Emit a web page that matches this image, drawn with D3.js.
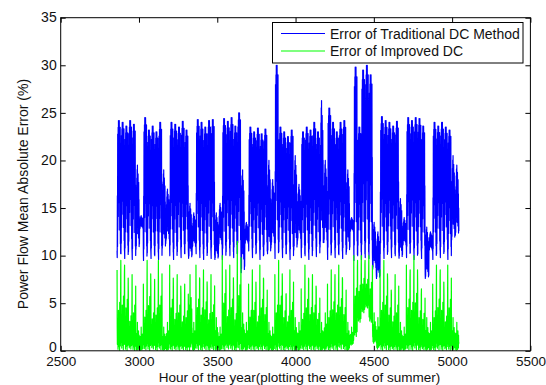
<!DOCTYPE html>
<html>
<head>
<meta charset="utf-8">
<script src="https://cdn.jsdelivr.net/npm/d3@7"></script>
<style>
html,body{margin:0;padding:0;background:#fff;}
svg{display:block;}
text{font-family:"Liberation Sans",Arial,Helvetica,sans-serif;fill:#111;}
</style>
</head>
<body>
<svg id="chart" width="546" height="385"></svg>
<script>
// ---------------- data ----------------
const startHour = 2860;            // first plotted hour of the year
const xTicks = [2500, 3000, 3500, 4000, 4500, 5000, 5500];
const yTicks = [0, 5, 10, 15, 20, 25, 30, 35];
const seriesNames = ["Error of Traditional DC Method", "Error of Improved DC"];

// daily peak of the traditional DC error (91 days = 13 weeks)
const bluePeak = [
  24.2,24.0,23.6,24.2,23.8,19.5,14.2,
  24.5,23.2,23.6,23.0,24.0,19.0,17.0,
  24.0,23.8,23.5,24.1,23.2,15.5,14.5,
  24.3,24.0,23.5,24.2,24.3,14.5,15.5,
  24.4,24.1,24.5,23.6,25.0,19.0,13.5,
  23.5,23.0,23.4,22.8,23.3,20.0,18.0,
  30.0,23.5,23.0,22.5,23.2,20.5,17.5,
  23.0,23.5,23.2,24.0,23.0,26.3,20.0,
  25.5,24.0,23.0,24.0,24.2,19.0,14.0,
  29.8,23.5,29.5,30.0,29.0,13.5,12.5,
  24.6,24.2,24.0,23.6,24.1,16.0,14.0,
  24.5,24.2,24.5,24.4,23.6,13.0,12.5,
  24.0,23.6,24.0,23.5,23.2,20.5,19.5
];
// daily minimum of the traditional DC error
const blueMin = [
  9.8,10.2,9.7,10.4,9.6,10.5,12.8,
  9.5,10.3,9.7,10.0,9.6,10.6,11.5,
  10.0,9.6,10.4,9.8,10.2,9.6,10.8,
  10.2,9.8,9.6,10.3,9.7,9.5,11.0,
  9.6,10.4,10.0,9.8,10.2,8.0,11.2,
  10.5,9.8,10.3,9.6,10.1,10.0,11.0,
  9.7,10.4,9.8,10.2,9.6,10.4,11.5,
  9.8,10.0,9.6,10.5,9.9,10.6,11.2,
  9.6,10.3,9.8,10.1,9.7,10.2,12.5,
  9.5,10.0,9.6,9.8,9.7,8.5,7.5,
  10.2,9.7,10.4,9.8,10.0,9.6,11.0,
  9.8,10.3,9.6,10.2,9.7,7.5,10.5,
  9.6,10.2,9.8,10.4,9.6,11.5,12.0
];
// daily peak of the improved DC error
const greenPeak = [
  8.5,9.5,9.0,6.0,8.0,3.0,2.5,
  7.0,9.5,6.5,7.5,9.5,2.5,3.0,
  9.0,6.5,8.0,6.0,7.0,8.0,3.0,
  9.0,7.5,8.5,6.5,8.0,3.5,2.5,
  10.0,7.0,9.0,6.5,11.5,4.0,3.0,
  7.0,8.5,6.0,9.0,7.5,3.0,2.5,
  8.0,9.5,7.0,6.0,8.5,3.5,3.0,
  6.5,9.0,7.5,8.0,6.5,3.0,4.0,
  7.0,8.5,8.0,9.0,7.5,3.0,2.5,
  10.0,9.5,10.0,9.5,10.0,4.0,3.5,
  8.5,9.5,7.5,6.0,8.0,3.0,2.5,
  9.0,8.5,10.0,7.0,6.5,3.5,3.0,
  7.0,9.0,8.5,6.0,9.0,3.5,3.0
];
// daily floor of the improved DC error
const greenBase = [
  0.0,0.1,0.0,0.2,0.0,0.0,0.0,
  0.1,0.0,0.2,0.0,0.1,0.0,0.0,
  0.0,0.1,0.0,0.1,0.0,0.0,0.0,
  0.1,0.0,0.1,0.0,0.1,0.0,0.0,
  0.0,0.2,0.1,0.0,0.1,0.0,0.0,
  0.1,0.0,0.1,0.0,0.1,0.0,0.0,
  0.0,0.1,0.0,0.1,0.0,0.0,0.0,
  0.1,0.0,0.1,0.0,0.1,0.0,0.0,
  0.0,0.1,0.0,0.2,0.1,0.0,0.6,
  1.5,3.0,4.0,4.5,3.0,0.8,0.2,
  0.0,0.1,0.0,0.1,0.0,0.0,0.0,
  0.1,0.0,0.1,0.0,0.1,0.0,0.0,
  0.0,0.1,0.0,0.1,0.0,0.0,0.0
];
// typical hour-of-day shape (share of the daily swing), weekday / weekend
const blueShapeWeekday = [0.05,0.0,0.45,0.08,0.9,0.2,0.6,0.95,0.3,1.0,0.85,0.95,0.4,0.9,1.0,0.85,0.95,0.2,0.9,0.75,0.95,0.1,0.55,0.03];
const blueShapeWeekend = [0.1,0.02,0.5,0.06,0.7,0.2,0.85,0.4,0.95,0.3,1.0,0.5,0.85,0.2,0.9,0.6,0.75,0.15,0.8,0.35,0.6,0.05,0.4,0.08];
const greenShapeWeekday = [1.0,0.3,0.08,0.4,0.12,0.28,0.02,0.38,0.2,0.5,0.1,0.32,0.05,0.45,0.18,0.35,0.0,0.6,0.22,0.12,0.42,0.06,0.3,0.85];
const greenShapeWeekend = [0.5,0.2,0.35,0.05,0.6,0.15,0.3,0.0,0.45,0.2,1.0,0.1,0.35,0.25,0.5,0.05,0.3,0.7,0.2,0.4,0.1,0.55,0.25,0.3];

// ---------------- build hourly series from the daily readings ----------------
const blueSeries = [], greenSeries = [];
bluePeak.forEach((pk, d) => {
  const weekend = (d % 7) >= 5;
  const bs = weekend ? blueShapeWeekend : blueShapeWeekday;
  const gs = weekend ? greenShapeWeekend : greenShapeWeekday;
  for (let h = 0; h < 24; h++) {
    const hour = startHour + d * 24 + h;
    blueSeries.push({x: hour, y: blueMin[d] + (pk - blueMin[d]) * bs[h]});
    greenSeries.push({x: hour, y: greenBase[d] + (greenPeak[d] - greenBase[d]) * gs[h]});
  }
});

// ---------------- drawing ----------------
const svg = d3.select("#chart");
const L = 60.7, R = 530.4, T = 17.7, B = 350.8;
const x = d3.scaleLinear().domain([2500, 5500]).range([L, R]);
const y = d3.scaleLinear().domain([0, 35]).range([B, T]);

svg.append("rect").attr("x", 0).attr("y", 0).attr("width", 546).attr("height", 385).attr("fill", "#fff");

svg.append("clipPath").attr("id", "pc").append("rect")
  .attr("x", L).attr("y", T).attr("width", R - L).attr("height", B - T);

const line = d3.line().x(d => x(d.x)).y(d => y(d.y));
const plot = svg.append("g").attr("clip-path", "url(#pc)");
plot.append("path").datum(blueSeries).attr("d", line)
  .attr("fill", "none").attr("stroke", "#0000ff").attr("stroke-width", 1.2)
  .attr("stroke-linejoin", "round");
plot.append("path").datum(greenSeries).attr("d", line)
  .attr("fill", "none").attr("stroke", "#00ff00").attr("stroke-width", 1.2)
  .attr("stroke-linejoin", "round");

// axes (MATLAB style: ticks inward, box with mirrored ticks)
const tickLen = 5;
const axB = svg.append("g").attr("transform", `translate(0,${B})`)
  .call(d3.axisBottom(x).tickValues(xTicks).tickSize(-tickLen).tickPadding(6).tickFormat(d3.format("d")));
const axT = svg.append("g").attr("transform", `translate(0,${T})`)
  .call(d3.axisTop(x).tickValues(xTicks).tickSize(-tickLen).tickFormat(""));
const axL = svg.append("g").attr("transform", `translate(${L},0)`)
  .call(d3.axisLeft(y).tickValues(yTicks).tickSize(-tickLen).tickPadding(4).tickFormat(d3.format("d")));
const axR = svg.append("g").attr("transform", `translate(${R},0)`)
  .call(d3.axisRight(y).tickValues(yTicks).tickSize(-tickLen).tickFormat(""));
[axB, axT, axL, axR].forEach(g => {
  g.select(".domain").remove();
  g.selectAll("line").attr("stroke", "#000").attr("stroke-width", 1);
  g.selectAll("text").attr("font-size", 14).attr("fill", "#111")
    .style("font-family", '"Liberation Sans",Arial,sans-serif');
});
axB.selectAll("text").attr("font-size", 13.5);
axL.selectAll("text").attr("dy", "0.3em");
axL.selectAll("text").filter(d => d === 0).attr("dy", "0.05em");

svg.append("rect").attr("x", L).attr("y", T).attr("width", R - L).attr("height", B - T)
  .attr("fill", "none").attr("stroke", "#000").attr("stroke-width", 1);

// axis titles
svg.append("text").attr("x", (L + R) / 2 + 4).attr("y", 382)
  .attr("text-anchor", "middle").attr("font-size", 13.5)
  .text("Hour of the year(plotting the weeks of summer)");
svg.append("text").attr("transform", "translate(28,194) rotate(-90)")
  .attr("text-anchor", "middle").attr("font-size", 14)
  .text("Power Flow Mean Absolute Error (%)");

// legend
const lg = svg.append("g");
lg.append("rect").attr("x", 272.5).attr("y", 22.5).attr("width", 250.5).attr("height", 40.5)
  .attr("fill", "#fff").attr("stroke", "#000").attr("stroke-width", 1);
const legColors = ["#0000ff", "#00ff00"];
seriesNames.forEach((n, i) => {
  const yy = 33.5 + i * 17.5;
  lg.append("line").attr("x1", 281).attr("x2", 325).attr("y1", yy).attr("y2", yy)
    .attr("stroke", legColors[i]).attr("stroke-width", 1.2);
  lg.append("text").attr("x", 330).attr("y", yy + 5).attr("font-size", 14).text(n);
});
</script>
</body>
</html>
